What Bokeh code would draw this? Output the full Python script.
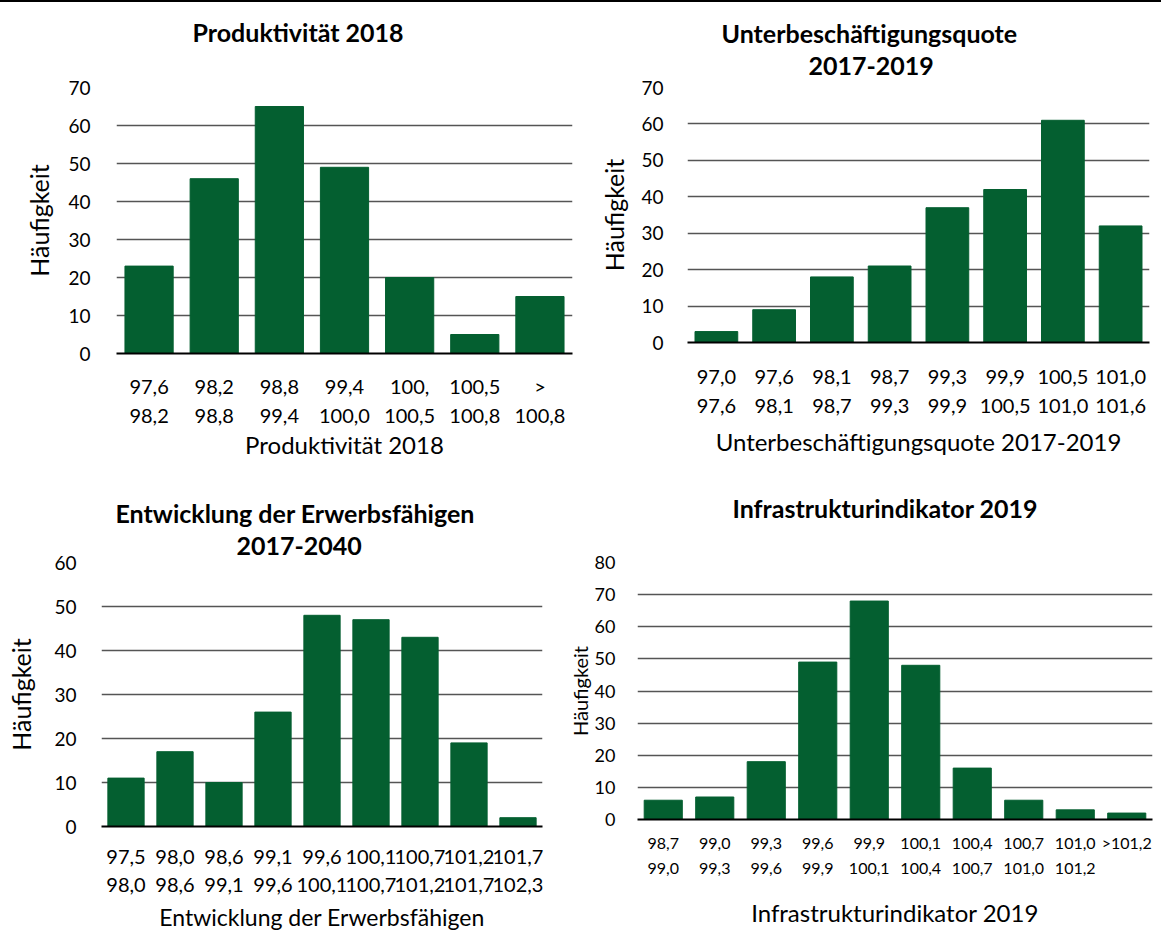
from bokeh.plotting import figure
from bokeh.models import Range1d, FixedTicker, LinearAxis, Title, Div
from bokeh.layouts import row, column
from bokeh.embed import file_html
from bokeh.resources import INLINE

FONT = "Lato"
GREEN = "#045F30"
GRID = "#555555"

# ---- data ----
prod_lo = ["97,6", "98,2", "98,8", "99,4", "100,", "100,5", ">"]
prod_hi = ["98,2", "98,8", "99,4", "100,0", "100,5", "100,8", "100,8"]
prod_counts = [23, 46, 65, 49, 20, 5, 15]

unter_lo = ["97,0", "97,6", "98,1", "98,7", "99,3", "99,9", "100,5", "101,0"]
unter_hi = ["97,6", "98,1", "98,7", "99,3", "99,9", "100,5", "101,0", "101,6"]
unter_counts = [3, 9, 18, 21, 37, 42, 61, 32]

erw_lo = ["97,5", "98,0", "98,6", "99,1", "99,6", "100,1", "100,7", "101,2", "101,7"]
erw_hi = ["98,0", "98,6", "99,1", "99,6", "100,1", "100,7", "101,2", "101,7", "102,3"]
erw_counts = [11, 17, 10, 26, 48, 47, 43, 19, 2]

infra_lo = ["98,7", "99,0", "99,3", "99,6", "99,9", "100,1", "100,4", "100,7", "101,0", ">101,2"]
infra_hi = ["99,0", "99,3", "99,6", "99,9", "100,1", "100,4", "100,7", "101,0", "101,2", ""]
infra_counts = [6, 7, 18, 49, 68, 48, 16, 6, 3, 2]


def make_chart(title_lines, spacer, lo, hi, counts, ymax, xlabel, fw, fh, bl, br, bt, bb,
               tick_fs="19px", cat_fs="20px", ylab_fs="25px", xlab_fs="24px", title_fs="25px",
               s1=20, s2=8, xals=5, ystand=20, yals=11):
    n = len(counts)
    xs = list(range(1, n + 1))
    p = figure(frame_width=fw, frame_height=fh,
               x_range=Range1d(0.5, n + 0.5), y_range=Range1d(0, ymax),
               output_backend="svg", toolbar_location=None,
               min_border_left=bl, min_border_right=br, min_border_top=bt, min_border_bottom=bb)
    p.outline_line_color = None
    p.background_fill_color = "white"
    p.border_fill_color = "white"
    p.vbar(x=xs, top=counts, width=0.74, fill_color=GREEN, line_color=GREEN)

    yt = FixedTicker(ticks=list(range(0, ymax + 1, 10)))
    p.yaxis.ticker = yt
    p.ygrid.ticker = yt
    p.ygrid.grid_line_color = GRID
    p.ygrid.grid_line_width = 1.4
    p.xgrid.visible = False
    yax = p.yaxis[0]
    yax.axis_line_color = None
    yax.major_tick_line_color = None
    yax.minor_tick_line_color = None
    yax.major_label_standoff = ystand
    yax.major_label_text_font = FONT
    yax.major_label_text_font_size = tick_fs
    yax.major_label_text_color = "black"
    yax.axis_label = "Häufigkeit"
    yax.axis_label_text_font = FONT
    yax.axis_label_text_font_style = "normal"
    yax.axis_label_text_font_size = ylab_fs
    yax.axis_label_text_color = "black"
    yax.axis_label_standoff = yals

    xax = p.xaxis[0]
    xax.ticker = FixedTicker(ticks=xs)
    xax.major_label_overrides = {i: lo[i - 1] for i in xs}
    xax.axis_line_color = "black"
    xax.axis_line_width = 2
    xax.major_tick_line_color = None
    xax.minor_tick_line_color = None
    xax.major_label_standoff = s1
    xax.major_label_text_font = FONT
    xax.major_label_text_font_size = cat_fs
    xax.major_label_text_color = "black"

    ax2 = LinearAxis(ticker=FixedTicker(ticks=xs),
                     major_label_overrides={i: hi[i - 1] for i in xs})
    ax2.axis_line_color = None
    ax2.major_tick_line_color = None
    ax2.minor_tick_line_color = None
    ax2.major_label_standoff = s2
    ax2.major_label_text_font = FONT
    ax2.major_label_text_font_size = cat_fs
    ax2.major_label_text_color = "black"
    ax2.axis_label = xlabel
    ax2.axis_label_text_font = FONT
    ax2.axis_label_text_font_style = "normal"
    ax2.axis_label_text_font_size = xlab_fs
    ax2.axis_label_text_color = "black"
    ax2.axis_label_standoff = xals
    p.add_layout(ax2, "below")

    # gap between the plot frame and the lowest title line
    p.add_layout(Title(text=" ", text_font_size="1px", standoff=spacer), "above")
    # title lines, given top to bottom; added from the bottom upwards
    for text, offset, standoff in reversed(title_lines):
        p.add_layout(Title(text=text, align="left", offset=offset, standoff=standoff,
                           text_font=FONT, text_font_size=title_fs, text_font_style="bold",
                           text_color="black"), "above")
    return p


p1 = make_chart([("Produktivität 2018", 76, 0)], 38, prod_lo, prod_hi, prod_counts, 70,
                "Produktivität 2018", 456, 266, 116, 8, 79, 120,
                s1=14, s2=2, xals=4, ystand=20, yals=11)
p2 = make_chart([("Unterbeschäftigungsquote", 34, 14), ("2017-2019", 121, 0)], 10,
                unter_lo, unter_hi, unter_counts, 70,
                "Unterbeschäftigungsquote 2017-2019", 462, 255, 107, 12, 85, 125,
                s1=21, s2=6, xals=11, ystand=18, yals=9)
p3 = make_chart([("Entwicklung der Erwerbsfähigen", 14, 14), ("2017-2040", 135, 0)], 5,
                erw_lo, erw_hi, erw_counts, 60,
                "Entwicklung der Erwerbsfähigen", 441, 264, 101, 18, 95, 106,
                xlab_fs="23px", s1=17, s2=5, xals=8, ystand=19, yals=15)
p4 = make_chart([("Infrastrukturindikator 2019", 95, 0)], 37,
                infra_lo, infra_hi, infra_counts, 80,
                "Infrastrukturindikator 2019", 515, 257, 77, 9, 94, 114,
                tick_fs="18px", cat_fs="16px", ylab_fs="20px", xlab_fs="24px",
                s1=7, s2=2, xals=21, ystand=16, yals=0)

topline = Div(width=1161, height=2, margin=0, styles={"background-color": "black"})
layout = column(topline, row(p1, p2), row(p3, p4))

open("out.html", "w").write(file_html(layout, INLINE))
